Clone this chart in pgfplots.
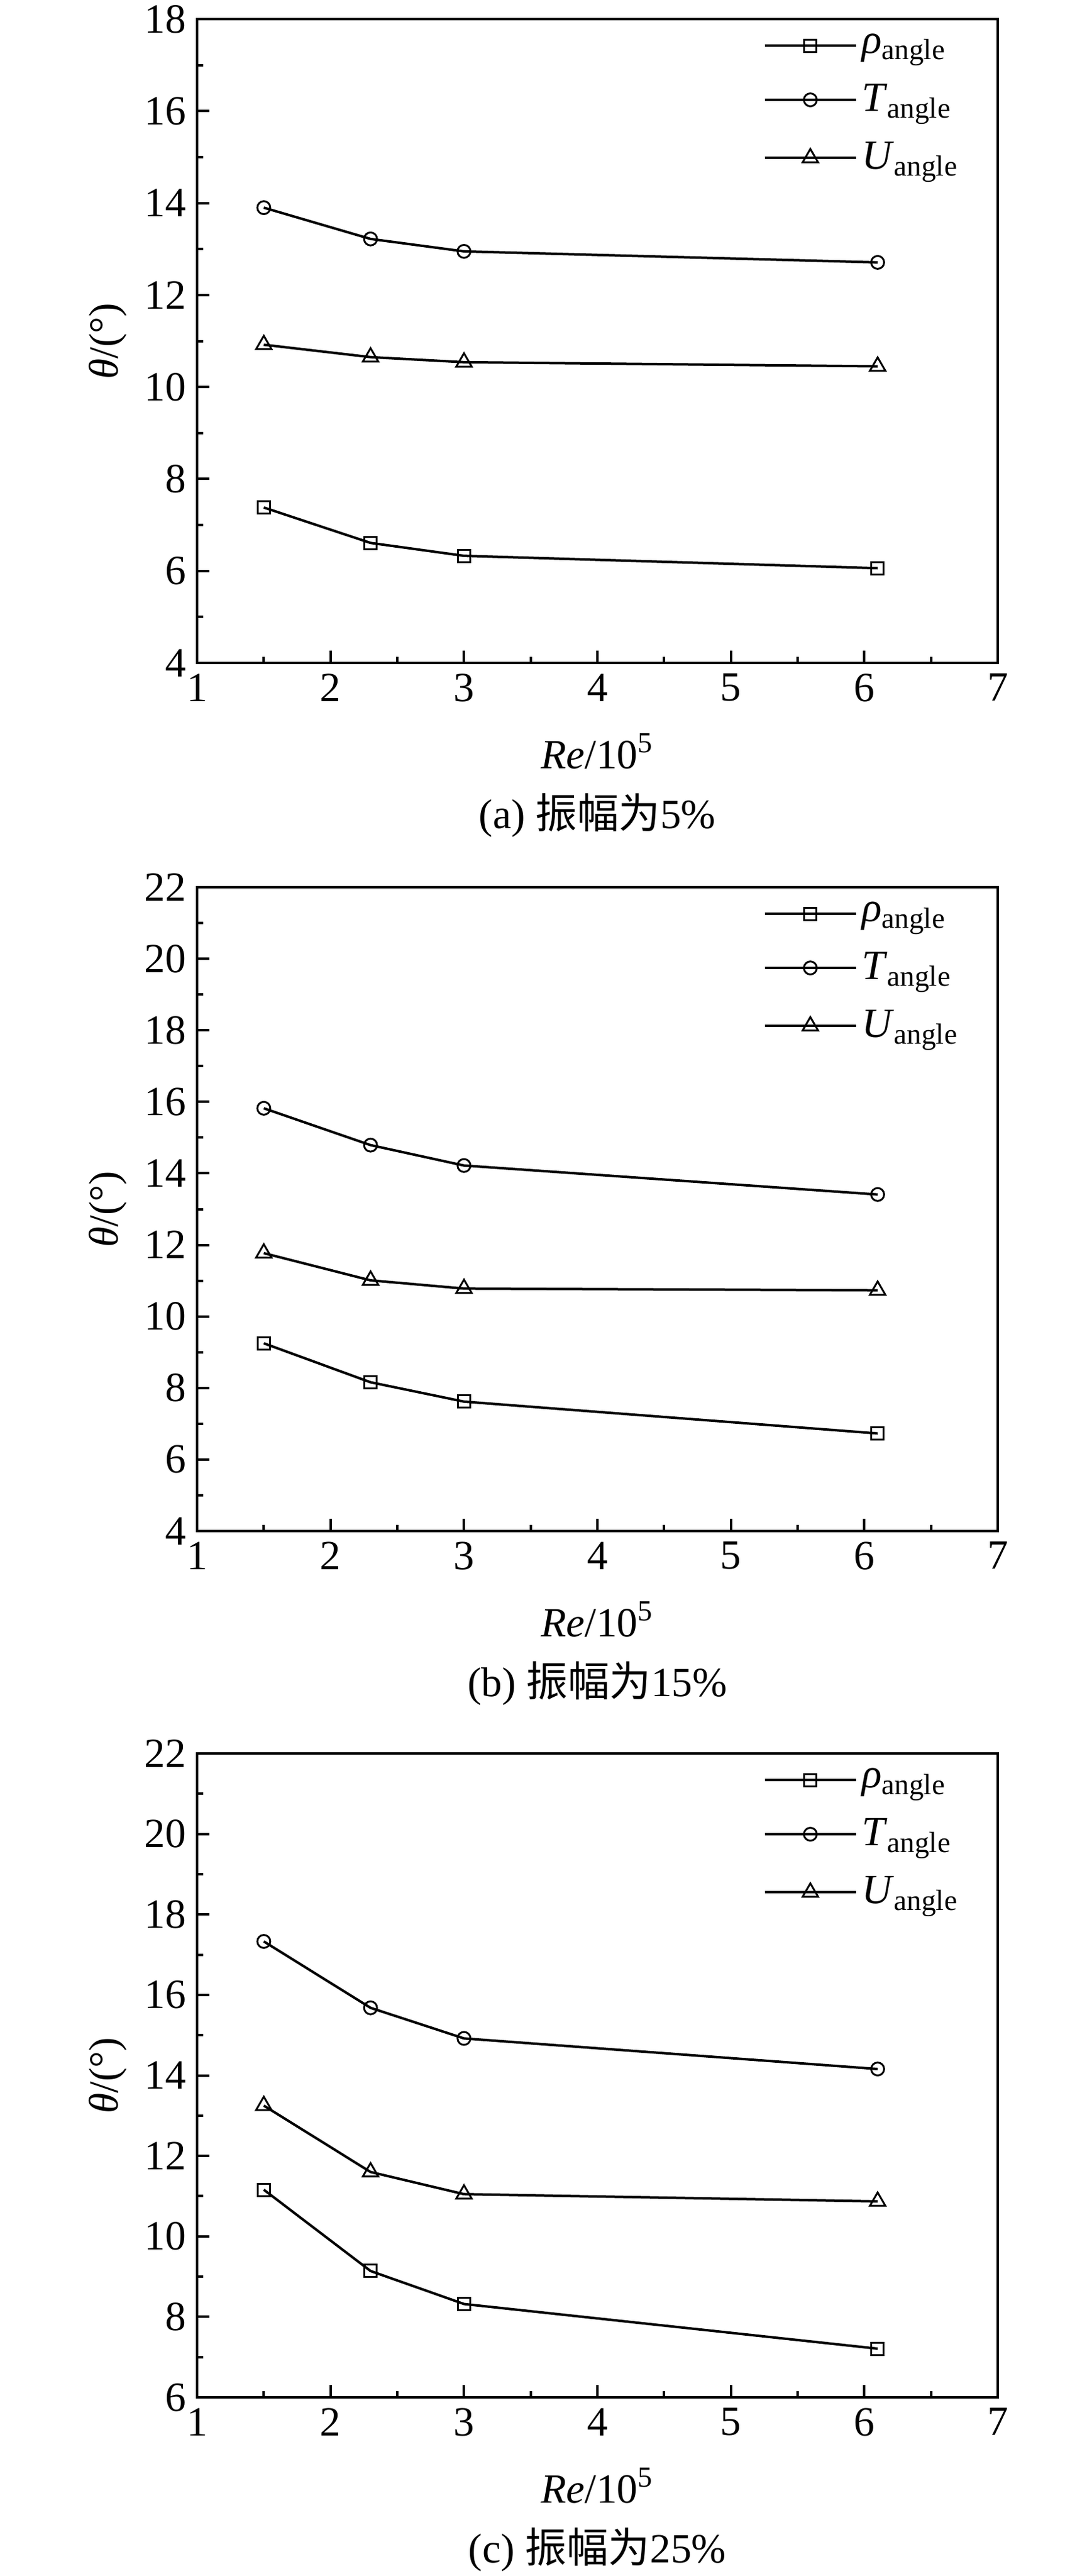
\documentclass[border=0pt]{standalone}
\usepackage{fontspec}
\setmainfont{Liberation Serif}
\newfontfamily\cjk{Noto Sans CJK SC}
\usepackage{pgfplots}
\pgfplotsset{compat=1.18}

\tikzset{mycaption/.style={font=\fontsize{13.5}{16}\selectfont}}
\pgfplotsset{
  myaxis/.style={
    scale only axis, width=260pt, height=209pt,
    clip=false,
    xmin=1, xmax=7, xtick={1,2,...,7},
    minor x tick num=1, minor y tick num=1,
    axis line style={line width=0.8pt},
    every tick/.style={line width=0.8pt, black},
    major tick length=4pt, minor tick length=2pt,
    tick align=inside, xtick pos=bottom, ytick pos=left,
    /pgf/number format/assume math mode=true,
    tick label style={font=\fontsize{13.5}{16}\selectfont},
    label style={font=\fontsize{13.5}{16}\selectfont},
    xlabel={\textit{Re}/10\textsuperscript{5}},
    ylabel={\textit{θ}/(°)},
    xlabel style={at={(axis description cs:0.5,-0.137)}, anchor=center},
    ylabel style={at={(axis description cs:-0.1115,0.5)}, anchor=center},
    legend style={draw=none, fill=none, at={(axis description cs:1,1)}, anchor=north east,
      xshift=-8pt, yshift=-1pt, row sep=5.5pt, font=\fontsize{13.5}{16}\selectfont,
      nodes={inner sep=1.5pt}},
    legend cell align=left,
    legend image code/.code={
      \draw[mark repeat=2, mark phase=2, #1] plot coordinates {(0pt,0pt) (14.8pt,0pt) (29.6pt,0pt)};
    },
    every axis plot/.append style={line width=0.8pt, black,
      mark options={solid, fill=white, line width=0.6pt}},
  },
  sq/.style={mark=square, mark size=2pt},
  ci/.style={mark=o, mark size=2.1pt},
  tr/.style={mark=triangle, mark size=2.9pt},
}

\begin{document}
\begin{tikzpicture}
\begin{axis}[myaxis, at={(64pt,-6.2pt)}, anchor=north west,
  ymin=4, ymax=18, ytick={4,6,...,18}]
\addplot[sq] coordinates {(1.5,7.38) (2.3,6.61) (3,6.33) (6.1,6.06)};
\addlegendentry{\textit{ρ}\textsubscript{angle}}
\addplot[ci] coordinates {(1.5,13.90) (2.3,13.22) (3,12.95) (6.1,12.71)};
\addlegendentry{\textit{T}\textsubscript{angle}}
\addplot[tr] coordinates {(1.5,10.92) (2.3,10.65) (3,10.54) (6.1,10.45)};
\addlegendentry{\textit{U}\textsubscript{angle}}
\node[mycaption] at (axis description cs:0.5,-0.237) {(a) {\cjk 振幅为}5\%};
\end{axis}

\begin{axis}[myaxis, at={(64pt,-288pt)}, anchor=north west,
  ymin=4, ymax=22, ytick={4,6,...,22}]
\addplot[sq] coordinates {(1.5,9.25) (2.3,8.16) (3,7.62) (6.1,6.73)};
\addlegendentry{\textit{ρ}\textsubscript{angle}}
\addplot[ci] coordinates {(1.5,15.82) (2.3,14.79) (3,14.22) (6.1,13.41)};
\addlegendentry{\textit{T}\textsubscript{angle}}
\addplot[tr] coordinates {(1.5,11.77) (2.3,11.01) (3,10.78) (6.1,10.73)};
\addlegendentry{\textit{U}\textsubscript{angle}}
\node[mycaption] at (axis description cs:0.5,-0.237) {(b) {\cjk 振幅为}15\%};
\end{axis}

\begin{axis}[myaxis, at={(64pt,-569.2pt)}, anchor=north west,
  ymin=6, ymax=22, ytick={6,8,...,22}]
\addplot[sq] coordinates {(1.5,11.16) (2.3,9.14) (3,8.32) (6.1,7.21)};
\addlegendentry{\textit{ρ}\textsubscript{angle}}
\addplot[ci] coordinates {(1.5,17.33) (2.3,15.68) (3,14.92) (6.1,14.16)};
\addlegendentry{\textit{T}\textsubscript{angle}}
\addplot[tr] coordinates {(1.5,13.25) (2.3,11.6) (3,11.05) (6.1,10.87)};
\addlegendentry{\textit{U}\textsubscript{angle}}
\node[mycaption] at (axis description cs:0.5,-0.237) {(c) {\cjk 振幅为}25\%};
\end{axis}
\pgfresetboundingbox
\useasboundingbox (0,0) rectangle (354.4pt,-836.2pt);
\end{tikzpicture}
\end{document}
